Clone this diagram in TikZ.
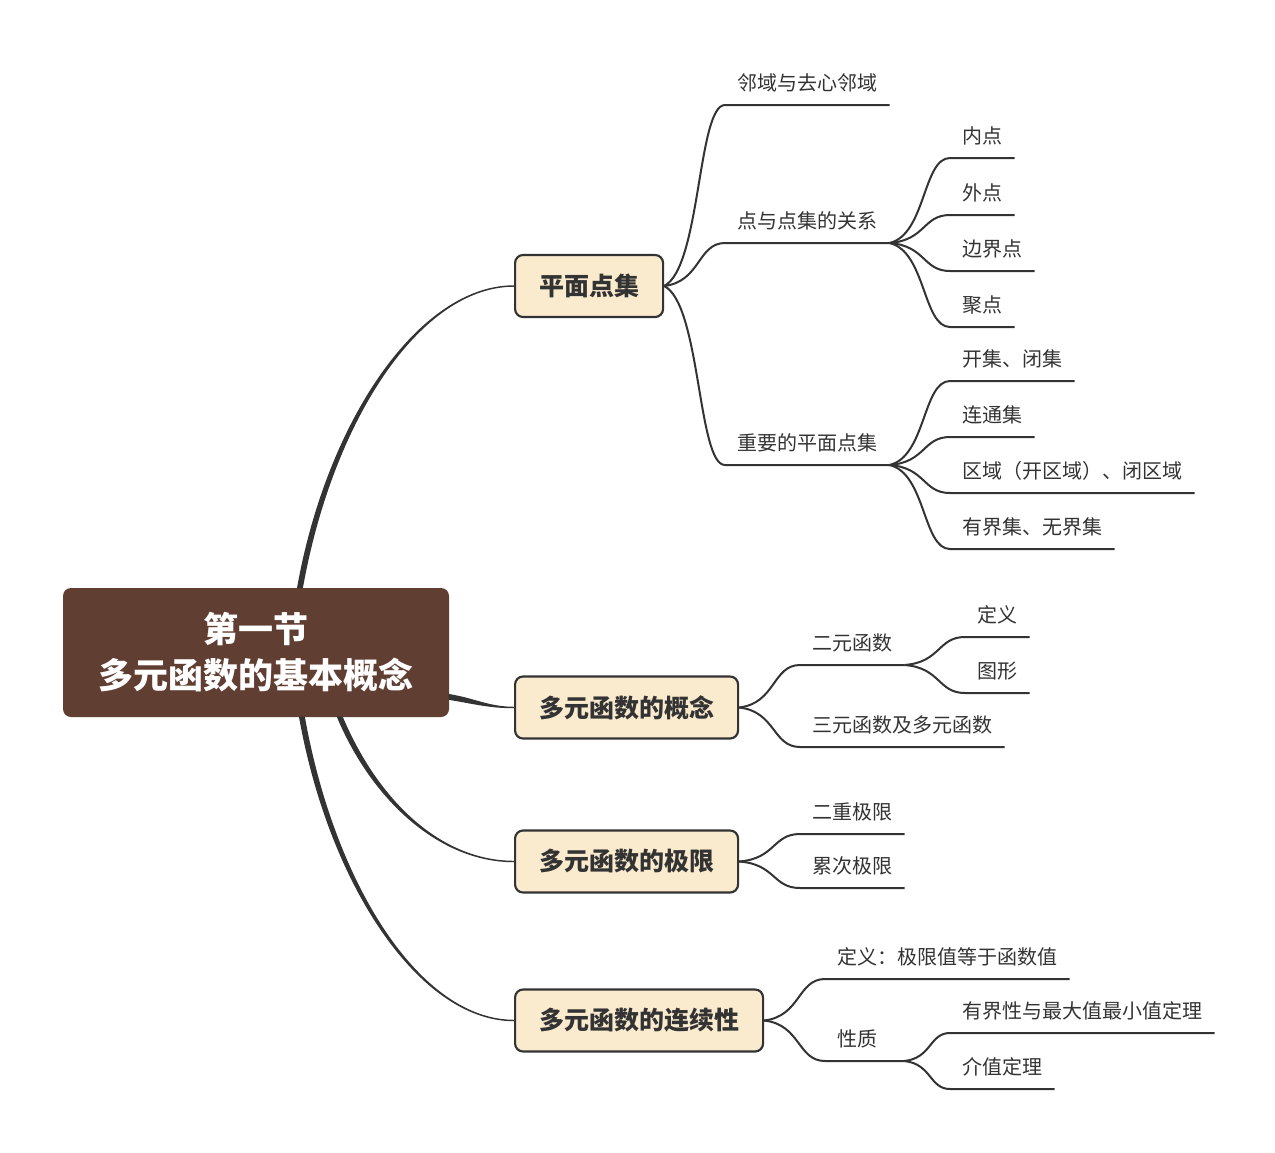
\documentclass[tikz,border=0pt]{standalone}
\usepackage{fontspec}
\setmainfont{Noto Sans CJK SC}
\usetikzlibrary{calc}
\definecolor{brun}{HTML}{613E32}
\definecolor{creme}{HTML}{FAEBCF}
\definecolor{gris}{HTML}{333333}
\tikzstyle{racine} = [rectangle, rounded corners=6pt, fill=brun, text=white, minimum width=289.5pt, minimum height=96.75pt, align=center, font=\fontsize{26.25pt}{34.5pt}\selectfont\bfseries]
\tikzstyle{theme} = [rectangle, rounded corners=6pt, draw=gris, line width=1.6pt, fill=creme, text=gris, anchor=west, minimum height=46.5pt, inner xsep=18pt, font=\fontsize{18.75pt}{22pt}\selectfont\bfseries]
\tikzstyle{sujet} = [anchor=south west, inner xsep=9pt, inner ysep=8.25pt, text height=11.25pt, text depth=2.25pt, text=gris, font=\fontsize{15pt}{18pt}\selectfont]
\tikzstyle{lien} = [draw=gris, line width=1.5pt, line join=round]
\tikzstyle{tronc} = [fill=gris, draw=gris, line width=1.1pt, line join=round]
\tikzset{courbe/.style={to path={let \p1=(\tikztostart), \p2=(\tikztotarget) in .. controls ({0.4*\x1+0.6*\x2},{0.9*\y1+0.1*\y2}) and ({0.45*\x1+0.55*\x2},\y2) .. (\tikztotarget)}}}
% branche effilee : depart, controle 1, controle 2, arrivee, demi-epaisseur
\newcommand{\tronc}[5]{\filldraw[tronc] ($#1+#5$) .. controls +#2 and +#3 .. #4 .. controls +#3 and +#2 .. ($#1-#5$) -- cycle;}

\begin{document}
\begin{tikzpicture}[x=0.75pt, y=-0.75pt]
        \useasboundingbox (0,0) rectangle (1275,1153);

        \node (racine) [racine] at (256,652.5) {第一节\\多元函数的基本概念};

        \node (T1) [theme] at (514,286) {平面点集};
        \node (T2) [theme] at (514,707.5) {多元函数的概念};
        \node (T3) [theme] at (514,861.5) {多元函数的极限};
        \node (T4) [theme] at (514,1020.5) {多元函数的连续性};

        %平面点集
        \node (A1) [sujet] at (725,105) {邻域与去心邻域};
        \node (A2) [sujet] at (725,243) {点与点集的关系};
        \node (A3) [sujet] at (725,465) {重要的平面点集};
        \node (A21) [sujet] at (950,158) {内点};
        \node (A22) [sujet] at (950,215) {外点};
        \node (A23) [sujet] at (950,271) {边界点};
        \node (A24) [sujet] at (950,327) {聚点};
        \node (A31) [sujet] at (950,381) {开集、闭集};
        \node (A32) [sujet] at (950,437) {连通集};
        \node (A33) [sujet] at (950,493) {区域（开区域）、闭区域};
        \node (A34) [sujet] at (950,549) {有界集、无界集};

        % 概念
        \node (B1) [sujet] at (800,665) {二元函数};
        \node (B2) [sujet] at (800,747) {三元函数及多元函数};
        \node (B11) [sujet] at (965,637) {定义};
        \node (B12) [sujet] at (965,693) {图形};

        % 极限
        \node (C1) [sujet] at (800,834) {二重极限};
        \node (C2) [sujet] at (800,888) {累次极限};

        % 连续性
        \node (D1) [sujet] at (825,979) {定义：极限值等于函数值};
        \node (D2) [sujet, text width=41pt] at (825,1061) {性质};
        \node (D21) [sujet] at (950,1033) {有界性与最大值最小值定理};
        \node (D22) [sujet] at (950,1089) {介值定理};

        \tronc{(racine.north)+(44,0)}{(30,-168)}{(-94,0)}{(T1.west)}{(2.2,0)}
        \tronc{(racine.east)+(0,44.5)}{(25,4)}{(-25,0)}{(T2.west)}{(0,2.2)}
        \tronc{(racine.south)+(84,0)}{(35,83)}{(-74,0)}{(T3.west)}{(2.2,0)}
        \tronc{(racine.south)+(46,0)}{(30,168)}{(-94,0)}{(T4.west)}{(2.2,0)}

        \foreach \p/\e in {T1.east/A1, T1.east/A2, T1.east/A3,
                A2.south east/A21, A2.south east/A22, A2.south east/A23, A2.south east/A24,
                A3.south east/A31, A3.south east/A32, A3.south east/A33, A3.south east/A34,
                T2.east/B1, T2.east/B2, B1.south east/B11, B1.south east/B12,
                T3.east/C1, T3.east/C2,
                T4.east/D1, T4.east/D2, D2.south east/D21, D2.south east/D22}
            \draw[lien] (\p) to[courbe] (\e.south west) -- (\e.south east);

    \end{tikzpicture}
\end{document}
